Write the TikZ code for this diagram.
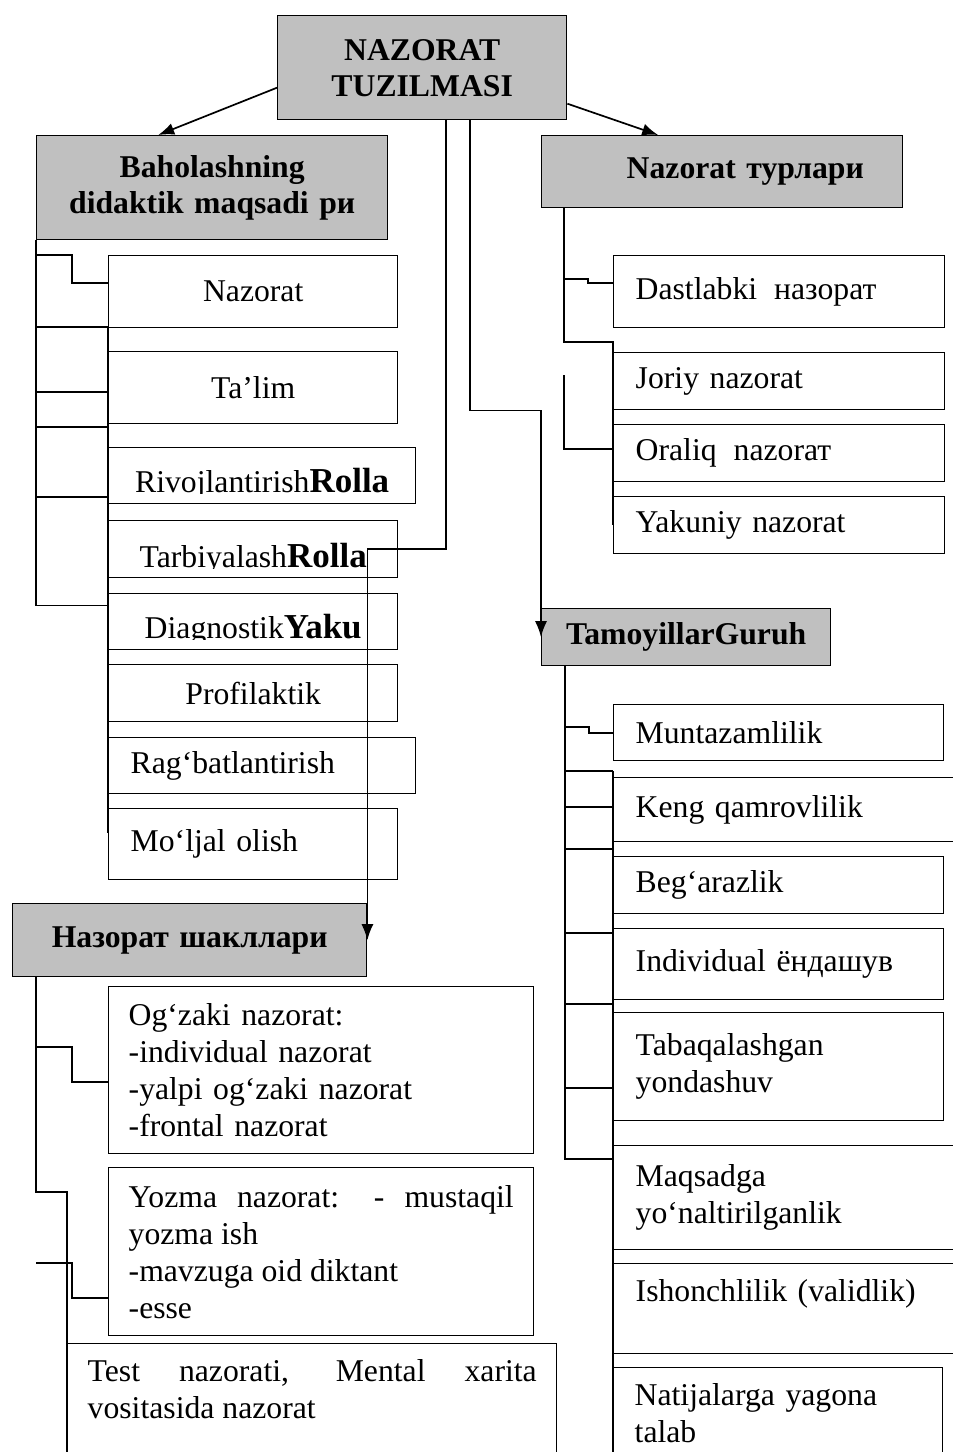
\documentclass[tikz,border=0pt]{standalone}
\usepackage{fontspec}
\setmainfont{Liberation Serif}
\usetikzlibrary{arrows.meta,calc}
\definecolor{kulrang}{RGB}{192,192,192}
\hyphenpenalty=10000
\exhyphenpenalty=10000

\begin{document}
\begin{tikzpicture}[x=1pt,y=-1pt]
		\tikzstyle{quti} = [draw,line width=1.4pt,anchor=north west,inner xsep=0pt,inner ysep=0pt,align=center,font=\fontsize{31.7}{37}\selectfont]
		\tikzstyle{sarlavha} = [quti,fill=kulrang,font=\fontsize{31.7}{36}\selectfont\bfseries]
		\tikzstyle{chap} = [quti,align=left,inner xsep=22pt]
		\tikzstyle{strelka} = [-{Latex[length=16pt,width=12pt]},line width=1.7pt]
		\tikzstyle{chiziq} = [line width=1.6pt]
		\newcommand{\qora}[1]{{\bfseries\fontsize{35}{37}\selectfont #1}}
		
		\useasboundingbox (0,0) rectangle (953,1452);
		
		\node[sarlavha,text width=289pt,minimum height=104pt](T) at (277,15) {NAZORAT\\TUZILMASI};
		\node[sarlavha,text width=351pt,minimum height=104pt](B) at (36,135) {Baholashning\\didaktik maqsadi ри};
		\node[sarlavha,align=left,inner xsep=21pt,text width=319pt,minimum height=72pt](NT) at (541,135) {\hspace*{64pt}Nazorat турлари};
		\node[sarlavha,text width=289pt,minimum height=57pt](TG) at (541,608) {TamoyillarGuruh};
		\node[sarlavha,text width=354pt,minimum height=73pt](NSH) at (12,903) {Назорат шакллари};
		
		\node[quti,text width=289pt,minimum height=72pt](N1) at (108,255) {Nazorat};
		\node[quti,text width=289pt,minimum height=72pt](TL) at (108,351) {Ta’lim};
		\node[quti,text width=307pt,minimum height=56pt,text height=41pt,text depth=7pt](RV) at (108,447) {Rivojlantirish\qora{Rolla}};
		\node[quti,text width=289pt,minimum height=57pt,text height=44pt,text depth=7pt](TB) at (108,520) {Tarbiyalash\qora{Rolla}};
		\node[quti,text width=289pt,minimum height=56pt,text height=41pt,text depth=7pt](DG) at (108,593) {Diagnostik\qora{Yaku}};
		\node[quti,text width=289pt,minimum height=57pt](PR) at (108,664) {Profilaktik};
		\node[chap,text width=263pt,minimum height=56pt](RG) at (108,737) {Rag‘batlantirish};
		\node[chap,text width=245pt,minimum height=71pt](MO) at (108,808) {Mo‘ljal olish};
		
		\node[chap,text width=287pt,minimum height=72pt](DA) at (613,255) {Dastlabki\hspace{17pt}назорат};
		\node[chap,text width=287pt,minimum height=57pt](JO) at (613,352) {Joriy nazorat};
		\node[chap,text width=287pt,minimum height=57pt](OR) at (613,424) {Oraliq\hspace{17pt}nazorат};
		\node[chap,text width=287pt,minimum height=57pt](YA) at (613,496) {Yakuniy nazorat};
		
		\node[chap,text width=286pt,minimum height=56pt](MU) at (613,704) {Muntazamlilik};
		\node[chap,text width=318pt,minimum height=64pt](KQ) at (613,777) {Keng qamrovlilik};
		\node[chap,text width=286pt,minimum height=57pt](BE) at (613,856) {Beg‘arazlik};
		\node[chap,text width=286pt,minimum height=71pt](IN) at (613,928) {Individual ёндашув};
		\node[chap,text width=286pt,minimum height=108pt](TA) at (613,1012) {Tabaqalashgan\\yondashuv};
		\node[chap,text width=318pt,minimum height=104pt](MQ) at (613,1145) {Maqsadga\\yo‘naltirilganlik};
		\node[chap,text width=318pt,minimum height=90pt](IS) at (613,1263) {Ishonchlilik (validlik)\\\mbox{}};
		\node[chap,text width=286pt,minimum height=128pt](NA) at (612,1367) {Natijalarga yagona\\talab\\\mbox{}};
		
		\node[chap,inner xsep=20pt,text width=385pt,minimum height=167pt](OG) at (108,986) {Og‘zaki nazorat:\\-individual nazorat\\-yalpi og‘zaki nazorat\\-frontal nazorat};
		\node[chap,align=justify,inner xsep=20pt,text width=385pt,minimum height=168pt](YO) at (108,1167) {Yozma nazorat: - mustaqil yozma ish\\-mavzuga oid diktant\\-esse};
		\node[chap,align=justify,inner xsep=20pt,text width=449pt,minimum height=128pt](TE) at (67,1343) {Test nazorati, Mental xarita vositasida nazorat\\\mbox{}};
		
		\fill[white] ($(RV.south west)+(1,-1)$) rectangle ($(RV.south east)+(-1,-10)$);
		\fill[white] ($(TB.south west)+(1,-1)$) rectangle ($(TB.south east)+(-1,-9)$);
		\fill[white] ($(DG.south west)+(1,-1)$) rectangle ($(DG.south east)+(-1,-10)$);
		
		\draw[strelka] ([yshift=-20pt]T.west) -- ([xshift=-54pt]B.north);
		\draw[strelka] ([yshift=-36pt]T.east) -- ([xshift=-64pt]NT.north);
		\draw[strelka] ([xshift=24pt]T.south) |- (NSH.east |- TB.east) -- (NSH.east);
		\draw[strelka] ([xshift=48pt]T.south) |- (TG.west |- JO.south) -- (TG.west);
		
		\draw[chiziq] (B.south west) -- ++(0,365) -- ++(72,0);
		\draw[chiziq] (B.south west |- N1.north) -- ++(36,0) |- ([yshift=9pt]N1.west);
		\foreach \y in {327,392,427,497}
			\draw[chiziq] (B.south west |- 0,\y) -- (N1.west |- 0,\y);
		\draw[chiziq] (N1.south west) -- (MO.west |- 0,833);
		
		\draw[chiziq] ([xshift=23pt]NT.south west) |- ([yshift=10pt]JO.north west) -- (YA.west);
		\draw[chiziq] ([xshift=23pt]NT.south west |- 0,279) -- ++(24,0) |- ([yshift=9pt]DA.west);
		\draw[chiziq] ([xshift=23pt]NT.south west |- 0,375) |- ([yshift=4pt]OR.west);
		
		\draw[chiziq] ([xshift=24pt]TG.south west) |- ([yshift=-14pt]MQ.north west);
		\draw[chiziq] ([xshift=24pt]TG.south west |- 0,727) -- ++(24,0) |- (MU.west);
		\foreach \y in {771,807,849,933,1004,1088}
			\draw[chiziq] ([xshift=24pt]TG.south west |- 0,\y) -- (MU.west |- 0,\y);
		\draw[chiziq] (MU.west |- 0,771) -- (MU.west |- NA.south);
		
		\draw[chiziq] ([xshift=24pt]NSH.south west) |- (TE.west |- 0,1192) -- (TE.south west);
		\draw[chiziq] ([xshift=24pt]NSH.south west |- 0,1047) -- ++(36,0) |- ([yshift=-12pt]OG.west);
		\draw[chiziq] ([xshift=24pt]NSH.south west |- 0,1263) -- ++(36,0) |- ([yshift=-46pt]YO.west);
		
\end{tikzpicture}
\end{document}
